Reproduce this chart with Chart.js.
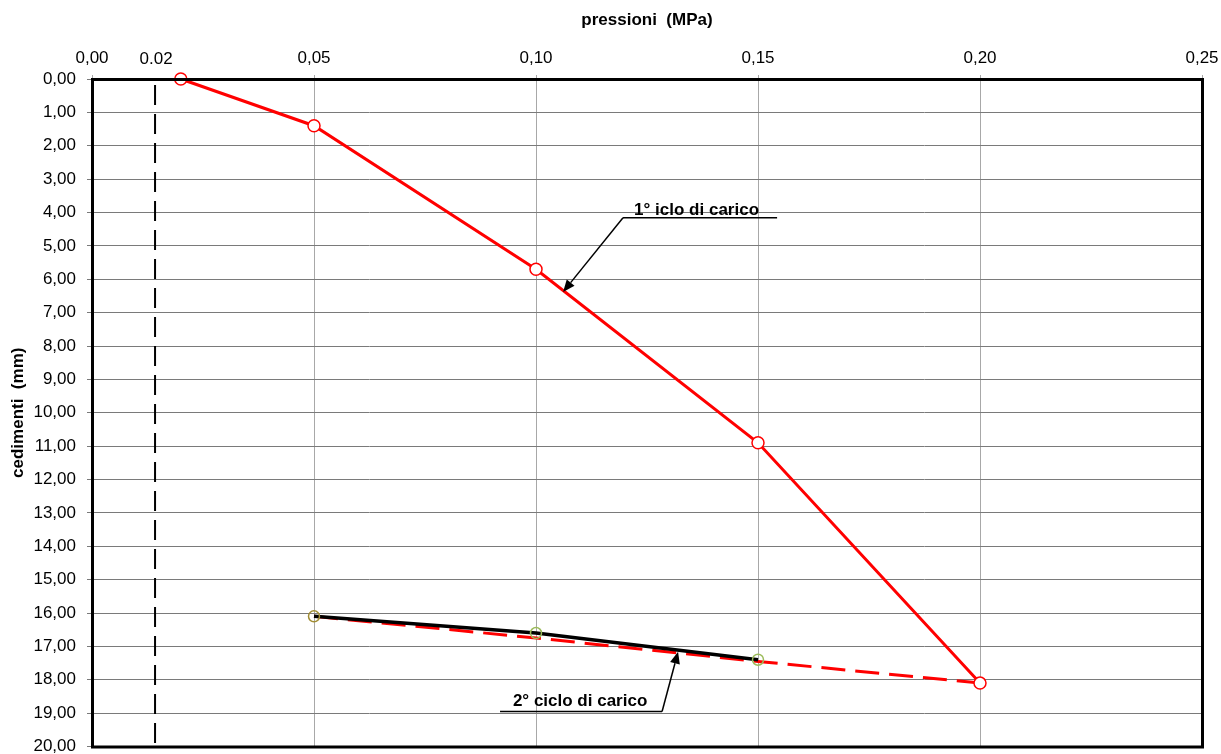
<!DOCTYPE html>
<html>
<head>
<meta charset="utf-8">
<script src="https://cdn.jsdelivr.net/npm/chart.js@4.4.1/dist/chart.umd.min.js"></script>
<style>
  html, body { margin: 0; padding: 0; background: #ffffff; }
  #wrap { width: 1221px; height: 754px; }
</style>
</head>
<body>
<div id="wrap"><canvas id="c" width="1221" height="754"></canvas></div>
<script>
// Plate load test: pressure (MPa) vs settlement (mm)
const pressioni1 = [0.02, 0.05, 0.10, 0.15, 0.20];
const cedimenti1 = [0.00, 1.40, 5.70, 10.90, 18.10];

const pressioni2 = [0.05, 0.10, 0.15];
const cedimenti2 = [16.10, 16.60, 17.40];

const pressioniScarico = [0.05, 0.10, 0.15, 0.20];
const cedimentiScarico = [16.10, 16.75, 17.45, 18.10];

const xTicks = [0, 0.05, 0.10, 0.15, 0.20, 0.25];
const yMax = 20;

// reference pressure line and its label
const refPressure = 0.0142;
const refLabel = '0.02';

const FONT = "'Liberation Sans', Arial, sans-serif";

// callouts: text, leader underline and arrow (data units)
const callouts = [
  { text: '1° iclo di carico', tx: 0.1221, ty: 4.07,
    ux0: 0.1196, ux1: 0.1543, uy: 4.16, tipX: 0.1061, tipY: 6.38 },
  { text: '2° ciclo di carico', tx: 0.0948, ty: 18.80,
    ux0: 0.0919, ux1: 0.1284, uy: 18.95, tipX: 0.1320, tipY: 17.16 }
];

const toPts = (xs, ys) => xs.map((x, i) => ({ x: x, y: ys[i] }));
const fmt = v => Number(v).toFixed(2).replace('.', ',');

const overlay = {
  id: 'overlay',
  beforeDatasetsDraw(chart) {
    const { ctx, chartArea, scales } = chart;
    const px = scales.x.getPixelForValue(refPressure);
    ctx.save();
    ctx.strokeStyle = '#000000';
    ctx.lineWidth = 2;
    ctx.setLineDash([20, 9]);
    ctx.beginPath();
    ctx.moveTo(px, chartArea.top + 6);
    ctx.lineTo(px, chartArea.bottom);
    ctx.stroke();
    ctx.restore();
  },
  afterDraw(chart) {
    const { ctx, chartArea, scales } = chart;
    const sx = scales.x, sy = scales.y;
    ctx.save();
    // plot frame
    ctx.strokeStyle = '#000000';
    ctx.lineWidth = 3;
    ctx.strokeRect(chartArea.left + 0.5, chartArea.top + 0.5,
                   chartArea.right - chartArea.left, chartArea.bottom - chartArea.top);

    // label of the reference line
    ctx.fillStyle = '#000000';
    ctx.font = '17px ' + FONT;
    ctx.textAlign = 'center';
    ctx.textBaseline = 'middle';
    ctx.fillText(refLabel, sx.getPixelForValue(refPressure) + 1, 59);

    // callouts
    callouts.forEach(c => {
      ctx.font = 'bold 17px ' + FONT;
      ctx.textAlign = 'left';
      ctx.textBaseline = 'alphabetic';
      ctx.fillStyle = '#000000';
      ctx.fillText(c.text, sx.getPixelForValue(c.tx), sy.getPixelForValue(c.ty));

      const x0 = sx.getPixelForValue(c.ux0), x1 = sx.getPixelForValue(c.ux1);
      const uy = sy.getPixelForValue(c.uy);
      const tx = sx.getPixelForValue(c.tipX), ty = sy.getPixelForValue(c.tipY);
      const ax = Math.abs(x0 - tx) < Math.abs(x1 - tx) ? x0 : x1;
      ctx.strokeStyle = '#000000';
      ctx.lineWidth = 1.5;
      ctx.beginPath();
      ctx.moveTo(x0, uy);
      ctx.lineTo(x1, uy);
      ctx.stroke();
      // arrow shaft and head
      const ang = Math.atan2(ty - uy, tx - ax);
      const headLen = 12, headW = 5;
      const bx = tx - headLen * Math.cos(ang), by = ty - headLen * Math.sin(ang);
      ctx.beginPath();
      ctx.moveTo(ax, uy);
      ctx.lineTo(bx, by);
      ctx.stroke();
      ctx.beginPath();
      ctx.moveTo(tx, ty);
      ctx.lineTo(bx + headW * Math.sin(ang), by - headW * Math.cos(ang));
      ctx.lineTo(bx - headW * Math.sin(ang), by + headW * Math.cos(ang));
      ctx.closePath();
      ctx.fill();
    });
    ctx.restore();
  }
};

new Chart(document.getElementById('c'), {
  type: 'scatter',
  data: {
    datasets: [
      {
        label: '1° ciclo di carico',
        data: toPts(pressioni1, cedimenti1),
        showLine: true,
        borderColor: '#ff0000',
        borderWidth: 3,
        pointRadius: 6,
        pointBorderWidth: 1.5,
        pointBackgroundColor: '#ffffff',
        pointBorderColor: '#ff0000',
        clip: false
      },
      {
        label: '2° ciclo di carico',
        data: toPts(pressioni2, cedimenti2),
        showLine: true,
        borderColor: '#000000',
        borderWidth: 3.5,
        pointRadius: 5.5,
        pointBorderWidth: 1.5,
        pointBackgroundColor: 'rgba(0,0,0,0)',
        pointBorderColor: ['#a08c32', '#9bbb59', '#9bbb59'],
        clip: false
      },
      {
        label: 'scarico',
        data: toPts(pressioniScarico, cedimentiScarico),
        showLine: true,
        borderColor: '#ff0000',
        borderWidth: 3,
        borderDash: [24, 10],
        pointRadius: 0,
        clip: false
      }
    ]
  },
  options: {
    responsive: false,
    animation: false,
    layout: { padding: { top: 0, left: 0, right: 19, bottom: 7 } },
    plugins: { legend: { display: false }, tooltip: { enabled: false } },
    scales: {
      x: {
        type: 'linear',
        position: 'top',
        min: 0,
        max: 0.25,
        afterBuildTicks: s => { s.ticks = xTicks.map(v => ({ value: v })); },
        afterFit: s => { s.height = 79; s.paddingLeft = 0; s.paddingRight = 0; },
        ticks: {
          autoSkip: false,
          maxRotation: 0,
          padding: 6,
          color: '#000000',
          font: { family: FONT, size: 17 },
          callback: v => fmt(v)
        },
        grid: { color: '#a8a8a8', lineWidth: 1, tickLength: 4 },
        border: { display: false },
        title: {
          display: true,
          text: 'pressioni  (MPa)',
          color: '#000000',
          font: { family: FONT, size: 17, weight: 'bold' },
          padding: { top: 10, bottom: 0 }
        }
      },
      y: {
        type: 'linear',
        reverse: true,
        min: 0,
        max: yMax,
        afterFit: s => { s.width = 92; s.paddingTop = 0; s.paddingBottom = 0; },
        ticks: {
          stepSize: 1,
          autoSkip: false,
          padding: 11,
          color: '#000000',
          font: { family: FONT, size: 17 },
          callback: v => fmt(v)
        },
        grid: { color: '#7a7a7a', lineWidth: 1, tickLength: 5 },
        border: { display: false },
        title: {
          display: true,
          text: 'cedimenti  (mm)',
          color: '#000000',
          font: { family: FONT, size: 17, weight: 'bold' },
          padding: { top: 8, bottom: 0 }
        }
      }
    }
  },
  plugins: [overlay]
});
</script>
</body>
</html>
